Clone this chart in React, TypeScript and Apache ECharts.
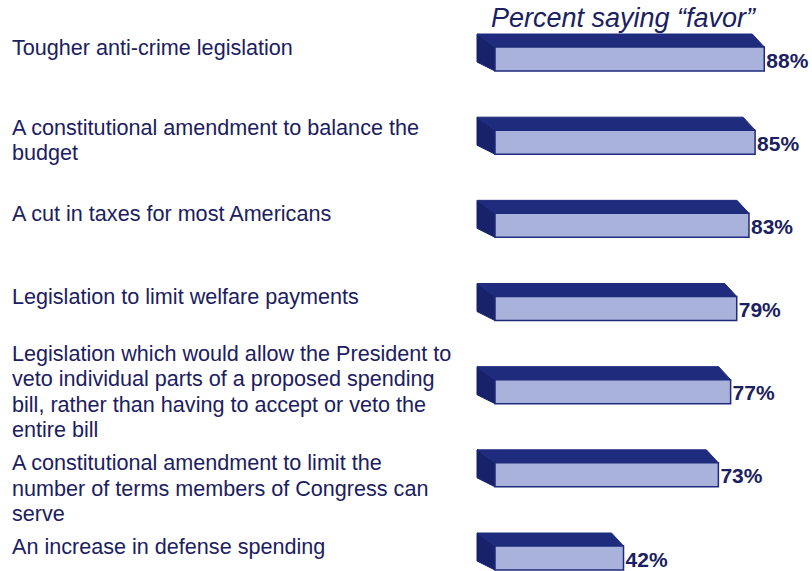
import React, { useEffect, useRef } from "react";
import * as echarts from "echarts";

const titleText = "Percent saying \u201Cfavor\u201D";

const categories = [
  "Tougher anti-crime legislation",
  "A constitutional amendment to balance the\nbudget",
  "A cut in taxes for most Americans",
  "Legislation to limit welfare payments",
  "Legislation which would allow the President to\nveto individual parts of a proposed spending\nbill, rather than having to accept or veto the\nentire bill",
  "A constitutional amendment to limit the\nnumber of terms members of Congress can\nserve",
  "An increase in defense spending",
];

const values = [88, 85, 83, 79, 77, 73, 42];

const NAVY = "#1f2b7c";
const NAVY_DARK = "#18226a";
const FRONT = "#a9b2da";
const TEXT = "#1b2060";
const FONT = "'Liberation Sans', Arial, Helvetica, sans-serif";

export default function App() {
  const ref = useRef<HTMLDivElement>(null);

  useEffect(() => {
    document.body.style.margin = "0";
    const chart = echarts.init(ref.current!, null, { renderer: "svg" });

    const renderItem = (params: any, api: any) => {
      const i = params.dataIndex;
      const v = api.value(0);
      const [xe, yc] = api.coord([v, i]);
      const [x0] = api.coord([0, i]);
      const h = 24;
      const yTop = yc - h / 2;
      const yBot = yc + h / 2;
      const dxL = -18;
      const dxR = -12;
      const dy = -13;
      const label = categories[i];
      const nLines = label.split("\n").length;
      const lh = 25.5;
      const labelStyle: any = {
        text: label,
        fill: TEXT,
        fontSize: 21.6,
        fontFamily: FONT,
        lineHeight: lh,
        align: "left",
      };
      let ly: number;
      if (nLines >= 4) {
        ly = yc;
        labelStyle.verticalAlign = "middle";
      } else {
        ly = yc - (nLines === 2 ? 15 : 12) - lh / 2;
        labelStyle.verticalAlign = "top";
      }
      return {
        type: "group",
        children: [
          {
            type: "polygon",
            shape: {
              points: [
                [x0 + dxL, yTop + dy],
                [x0, yTop],
                [x0, yBot],
                [x0 + dxL, yBot - 9],
              ],
            },
            style: { fill: NAVY_DARK, stroke: NAVY_DARK, lineWidth: 1 },
          },
          {
            type: "polygon",
            shape: {
              points: [
                [x0 + dxL, yTop + dy],
                [xe + dxR, yTop + dy],
                [xe, yTop],
                [x0, yTop],
              ],
            },
            style: { fill: NAVY, stroke: NAVY, lineWidth: 1 },
          },
          {
            type: "rect",
            shape: { x: x0, y: yTop, width: xe - x0, height: h },
            style: { fill: FRONT, stroke: NAVY, lineWidth: 1.5 },
          },
          {
            type: "text",
            x: xe + 2,
            y: yc + 1,
            style: {
              text: v + "%",
              fill: TEXT,
              fontSize: 21,
              fontWeight: "bold",
              fontFamily: FONT,
              align: "left",
              verticalAlign: "middle",
            },
          },
          {
            type: "text",
            x: 12,
            y: ly,
            style: labelStyle,
          },
        ],
      };
    };

    chart.setOption({
      animation: false,
      backgroundColor: "#ffffff",
      title: {
        text: titleText,
        left: 486,
        top: -1,
        textStyle: {
          fontStyle: "italic",
          fontWeight: "normal",
          fontSize: 27,
          fontFamily: FONT,
          color: TEXT,
        },
      },
      grid: { left: 495, right: 11, top: 59, bottom: 13 },
      xAxis: { type: "value", min: 0, max: 100, show: false },
      yAxis: {
        type: "category",
        data: categories,
        inverse: true,
        boundaryGap: false,
        show: false,
      },
      series: [
        {
          type: "custom",
          clip: false,
          renderItem,
          encode: { x: 0, y: 1 },
          data: values.map((v, i) => [v, i]),
        },
      ],
    });

    return () => chart.dispose();
  }, []);

  return <div ref={ref} style={{ width: 812, height: 571 }} />;
}
